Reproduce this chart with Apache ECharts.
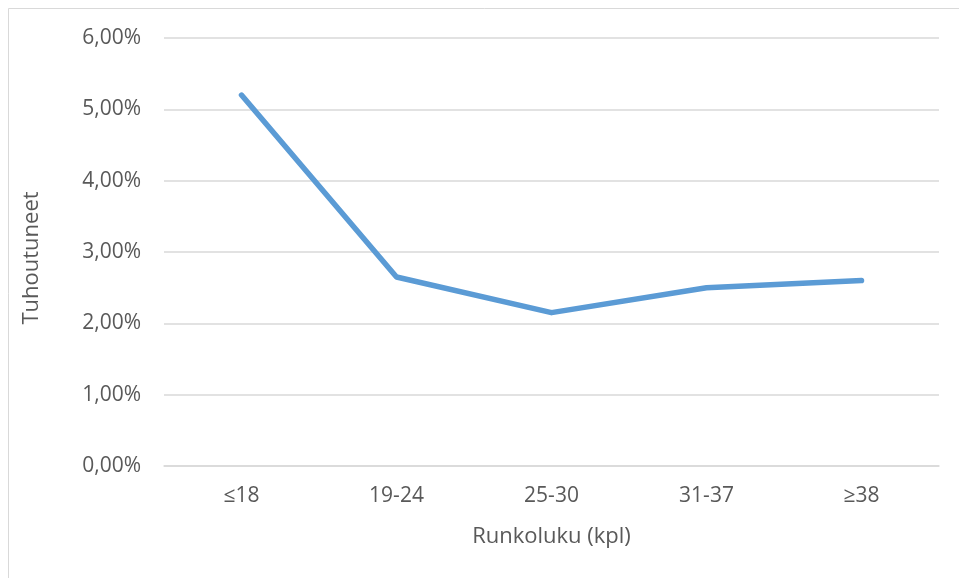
<!DOCTYPE html>
<html>
<head>
<meta charset="utf-8">
<script src="https://cdn.jsdelivr.net/npm/echarts@6/dist/echarts.min.js"></script>
<style>
  html, body { margin: 0; padding: 0; background: #fff; }
  #chart { width: 959px; height: 578px; }
</style>
</head>
<body>
<div id="chart"></div>
<script>
const categories = ["≤18", "19-24", "25-30", "31-37", "≥38"];
const tuhoutuneet = [5.2, 2.65, 2.15, 2.5, 2.6];

const textColor = "#595959";
const gridColor = "#d9d9d9";
const font = "Open Sans";

const chart = echarts.init(document.getElementById("chart"));
const option = {
  animation: false,
  backgroundColor: "#fff",
  textStyle: { fontFamily: font },
  graphic: [
    {
      type: "rect",
      silent: true,
      shape: { x: 8.5, y: 8.5, width: 1000, height: 1000 },
      style: { fill: "none", stroke: gridColor, lineWidth: 1 },
    },
  ],
  grid: { left: 164, right: 20, top: 38, bottom: 112 },
  xAxis: {
    type: "category",
    data: categories,
    boundaryGap: true,
    name: "Runkoluku (kpl)",
    nameLocation: "middle",
    nameGap: 60,
    nameTextStyle: { color: textColor, fontSize: 22, fontFamily: font },
    axisLine: { lineStyle: { color: gridColor, width: 1.5 } },
    axisTick: { show: false },
    axisLabel: { color: textColor, fontSize: 21, margin: 20, fontFamily: font },
  },
  yAxis: {
    type: "value",
    min: 0,
    max: 6,
    interval: 1,
    name: "Tuhoutuneet",
    nameLocation: "middle",
    nameGap: 121,
    nameTextStyle: { color: textColor, fontSize: 22, fontFamily: font, padding: [0, 12, 0, 0] },
    axisLine: { show: false },
    axisTick: { show: false },
    axisLabel: {
      color: textColor,
      fontSize: 21,
      margin: 23,
      fontFamily: font,
      formatter: (v) => v.toFixed(2).replace(".", ",") + "%",
    },
    splitLine: { lineStyle: { color: gridColor, width: 1.5 } },
  },
  series: [
    {
      name: "Tuhoutuneet",
      type: "line",
      data: tuhoutuneet,
      symbol: "none",
      lineStyle: { color: "#5b9bd5", width: 5.5, cap: "round", join: "round" },
    },
  ],
};
chart.setOption(option);
</script>
</body>
</html>
